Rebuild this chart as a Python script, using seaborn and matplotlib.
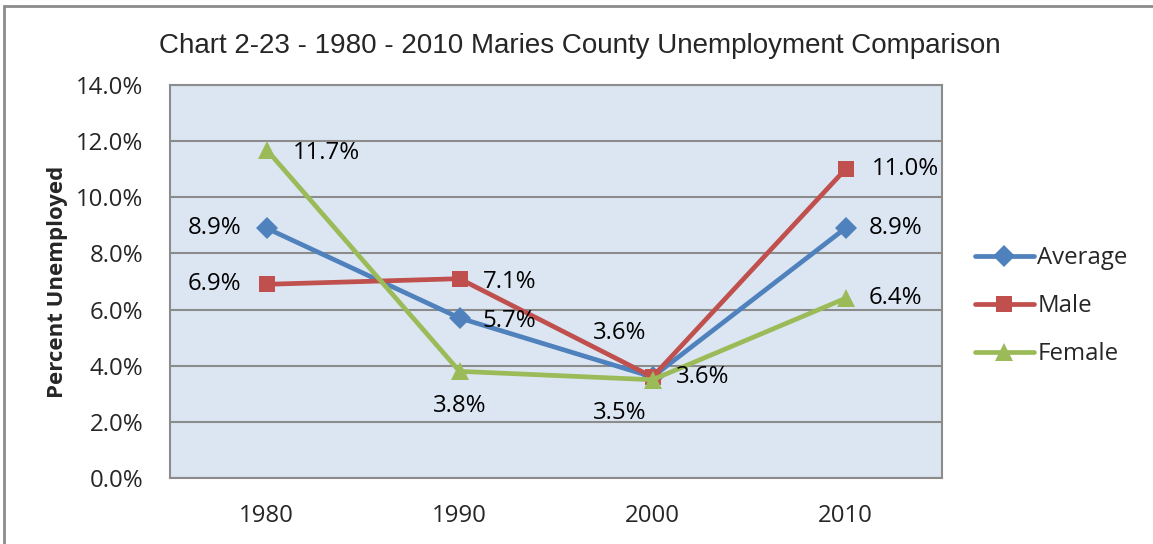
import pandas as pd
import numpy as np
import matplotlib
matplotlib.use("Agg")
import matplotlib.pyplot as plt
from matplotlib.patches import Rectangle
from matplotlib.ticker import FuncFormatter
import seaborn as sns

# --- Data (percent unemployed) ---
years = ["1980", "1990", "2000", "2010"]
average = [8.9, 5.7, 3.6, 8.9]
male = [6.9, 7.1, 3.6, 11.0]
female = [11.7, 3.8, 3.5, 6.4]

TITLE = "Chart 2-23 - 1980 - 2010 Maries County Unemployment Comparison"
YLABEL = "Percent Unemployed"

# label offsets (pixels) for each data label, matching the original placement
avg_offsets = [(-52, 0), (50, -3), (50, 0), (50, 0)]
male_offsets = [(-52, 0), (50, -3), (-33, 44), (60, 0)]
female_offsets = [(60, -3), (0, -35), (-33, -33), (50, 0)]

sns.set_style("white")
plt.rcParams["font.family"] = ["Open Sans", "DejaVu Sans"]

df = pd.DataFrame({
    "pos": np.arange(len(years)),
    "Average": average,
    "Male": male,
    "Female": female,
})

fig = plt.figure(figsize=(11.53, 5.44), dpi=100)
ax = fig.add_axes([170 / 1153, 1 - 478 / 544, (942 - 170) / 1153, (478 - 85) / 544])

series = [
    ("Average", "#4F81BD", "D", 11, avg_offsets),
    ("Male", "#C0504D", "s", 12, male_offsets),
    ("Female", "#9BBB59", "^", 13, female_offsets),
]

for name, color, marker, msize, offs in series:
    sns.lineplot(data=df, x="pos", y=name, ax=ax, color=color, marker=marker,
                 markersize=msize, markeredgewidth=0, linewidth=3.4, label=name,
                 zorder=3)
    for i, v in enumerate(df[name]):
        ax.annotate(f"{v:.1f}%", (df["pos"][i], v), xytext=offs[i],
                    textcoords="offset pixels", ha="center", va="center",
                    fontsize=17.3, color="black", zorder=4)

# axes styling
ax.set_facecolor("#DCE6F2")
ax.set_xlim(-0.5, 3.5)
ax.set_ylim(0, 14)
ax.set_yticks(np.arange(0, 14.1, 2))
ax.yaxis.set_major_formatter(FuncFormatter(lambda v, p: f"{v:.1f}%"))
ax.set_xticks(df["pos"])
ax.set_xticklabels(years)
ax.tick_params(axis="both", length=0, labelsize=17.3, pad=19)
ax.grid(axis="y", color="#8C8C8C", linewidth=1.5)
ax.set_axisbelow(True)
for s in ax.spines.values():
    s.set_color("#8C8C8C")
    s.set_linewidth(1.5)
ax.set_xlabel("")
ax.set_ylabel("")

fig.text(57 / 1153, 1 - 282 / 544, YLABEL, rotation=90, ha="center", va="center",
         fontsize=16, fontweight="bold")
fig.text(580 / 1153, 1 - 46 / 544, TITLE, ha="center", va="center",
         fontsize=20, family=["Liberation Sans", "DejaVu Sans"])

ax.legend(loc="center left", bbox_to_anchor=(975 / 1153, 1 - 306 / 544),
          bbox_transform=fig.transFigure, frameon=False, fontsize=17.3,
          handlelength=2.45, handletextpad=0.15, labelspacing=1.0, borderpad=0,
          borderaxespad=0)

# outer chart frame
fig.patches.append(Rectangle((4 / 1153, -0.2), 1.2, 1.2 - 6 / 544,
                             transform=fig.transFigure, fill=False,
                             edgecolor="#8C8C8C", linewidth=2))

plt.savefig("out.png", dpi=100)
